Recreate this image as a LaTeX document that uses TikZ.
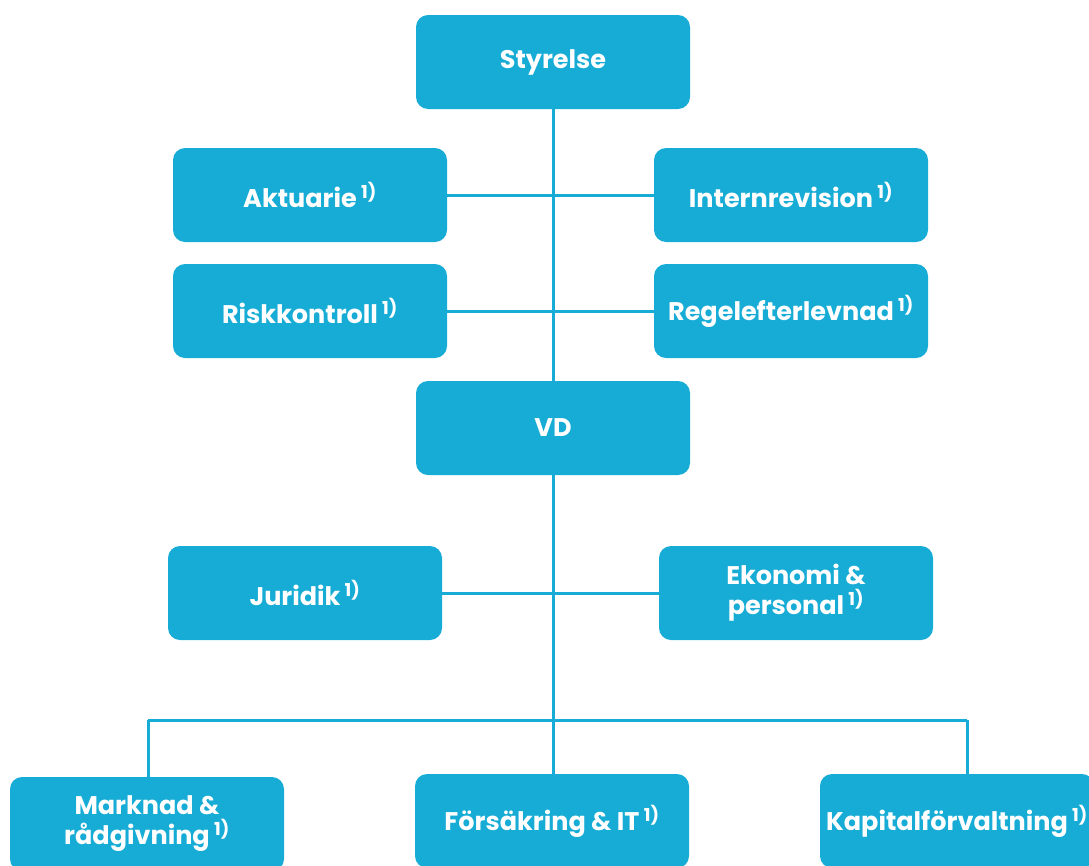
\documentclass[tikz,border=0pt]{standalone}
\usepackage{fontspec}
\setmainfont{Poppins}[BoldFont=Poppins Bold]
\definecolor{boxblue}{RGB}{22,172,214}
\begin{document}
\begin{tikzpicture}[x=1pt,y=-1pt,
  orgbox/.style={rectangle, rounded corners=12pt, fill=boxblue, text=white,
    minimum width=274pt, minimum height=94pt, inner sep=0pt, align=center,
    font=\bfseries\fontsize{25.5}{30}\selectfont},
  link/.style={draw=boxblue, line width=3pt}]
\useasboundingbox (0,0) rectangle (1089,865);
\node[orgbox] (sty) at (553,62) {Styrelse};
\node[orgbox] (akt) at (310,195) {Aktuarie\,\textsuperscript{1)}};
\node[orgbox] (int) at (791,195) {Internrevision\,\textsuperscript{1)}};
\node[orgbox] (risk) at (310,311) {Riskkontroll\,\textsuperscript{1)}};
\node[orgbox] (reg) at (791,311) {Regelefterlevnad\,\textsuperscript{1)}};
\node[orgbox] (vd) at (553,428) {VD};
\node[orgbox] (jur) at (305,593) {Juridik\,\textsuperscript{1)}};
\node[orgbox] (eko) at (796,593) {Ekonomi \&\\personal\,\textsuperscript{1)}};
\node[orgbox] (mark) at (147,824) {Marknad \&\\rådgivning\,\textsuperscript{1)}};
\node[orgbox] (fors) at (552,821) {Försäkring \& IT\,\textsuperscript{1)}};
\node[orgbox] (kap) at (957,821) {Kapitalförvaltning\,\textsuperscript{1)}};
\coordinate (busL) at (148,720);
\coordinate (busM) at (553,720);
\coordinate (busR) at (967,720);
\draw[link] (sty.south) -- (vd.north);
\draw[link] (akt.east) -- (int.west);
\draw[link] (risk.east) -- (reg.west);
\draw[link] (vd.south) -- (busM);
\draw[link] (jur.east) -- (eko.west);
\draw[link] (busL) -- (busR);
\draw[link] (busL) -- (busL |- mark.north);
\draw[link] (busM) -- (busM |- fors.north);
\draw[link] (busR) -- (busR |- kap.north);
\end{tikzpicture}
\end{document}
